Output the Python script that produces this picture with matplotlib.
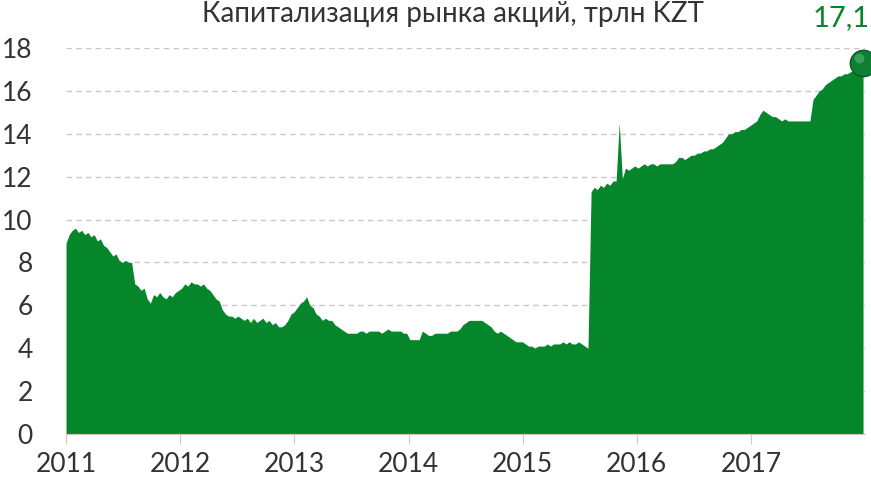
import pandas as pd
import matplotlib
matplotlib.use("Agg")
from matplotlib import pyplot as plt
import matplotlib.dates as mdates

plt.rcParams['font.family'] = ['Lato', 'DejaVu Sans']

title = 'Капитализация рынка акций, трлн KZT'
last_label = '17,1'
years = [2011, 2012, 2013, 2014, 2015, 2016, 2017]
y_ticks = [0, 2, 4, 6, 8, 10, 12, 14, 16, 18]

# 10-day readings, from 2011-01-01
cap = [
    8.9, 9.3, 9.5, 9.6, 9.4, 9.5, 9.3, 9.4, 9.2, 9.3,
    9.0, 9.1, 8.8, 8.7, 8.5, 8.3, 8.4, 8.1, 8.0, 8.1,
    8.0, 8.0, 7.0, 6.9, 6.7, 6.8, 6.3, 6.1, 6.5, 6.4,
    6.6, 6.4, 6.3, 6.5, 6.4, 6.6, 6.7, 6.8, 7.0, 6.9,
    7.1, 7.0, 7.0, 6.9, 7.0, 6.8, 6.7, 6.5, 6.3, 6.2,
    5.8, 5.6, 5.5, 5.5, 5.4, 5.5, 5.4, 5.3, 5.4, 5.2,
    5.4, 5.2, 5.3, 5.4, 5.2, 5.3, 5.1, 5.2, 5.0, 5.0,
    5.1, 5.3, 5.6, 5.7, 5.9, 6.1, 6.2, 6.4, 6.0, 5.9,
    5.6, 5.5, 5.3, 5.4, 5.3, 5.3, 5.1, 5.0, 4.9, 4.8,
    4.7, 4.7, 4.7, 4.7, 4.8, 4.8, 4.7, 4.8, 4.8, 4.8,
    4.8, 4.7, 4.8, 4.9, 4.8, 4.8, 4.8, 4.8, 4.7, 4.7,
    4.4, 4.4, 4.4, 4.4, 4.8, 4.7, 4.6, 4.6, 4.7, 4.7,
    4.7, 4.7, 4.7, 4.8, 4.8, 4.8, 4.9, 5.1, 5.2, 5.3,
    5.3, 5.3, 5.3, 5.3, 5.2, 5.1, 5.0, 4.8, 4.7, 4.8,
    4.7, 4.6, 4.5, 4.4, 4.3, 4.3, 4.3, 4.2, 4.1, 4.1,
    4.0, 4.1, 4.1, 4.1, 4.2, 4.1, 4.2, 4.2, 4.2, 4.3,
    4.2, 4.3, 4.2, 4.2, 4.3, 4.2, 4.1, 4.0, 11.3, 11.5,
    11.4, 11.6, 11.5, 11.7, 11.6, 11.8, 11.8, 14.5, 11.9, 12.4,
    12.3, 12.4, 12.5, 12.4, 12.5, 12.6, 12.5, 12.6, 12.6, 12.5,
    12.6, 12.6, 12.6, 12.6, 12.6, 12.7, 12.9, 12.9, 12.8, 12.9,
    13.0, 13.0, 13.1, 13.1, 13.2, 13.2, 13.3, 13.3, 13.4, 13.5,
    13.6, 13.8, 14.0, 14.0, 14.1, 14.1, 14.2, 14.2, 14.3, 14.4,
    14.5, 14.6, 14.9, 15.1, 15.0, 14.9, 14.8, 14.8, 14.7, 14.6,
    14.7, 14.6, 14.6, 14.6, 14.6, 14.6, 14.6, 14.6, 14.6, 15.6,
    15.8, 16.0, 16.1, 16.3, 16.4, 16.5, 16.6, 16.7, 16.7, 16.8,
    16.8, 16.9, 16.9, 16.9, 17.0, 17.1,
]
dates = pd.date_range('2011-01-01', periods=len(cap), freq='10D')

green = '#06862B'
text_col = '#333333'

fig = plt.figure(figsize=(8.71, 4.83), dpi=100)
ax = fig.add_axes([0.0758, 0.1014, 0.9172, 0.7992])

ax.fill_between(dates, 0, cap, color=green, linewidth=0, zorder=2)
ax.plot(dates[-1], cap[-1] + 0.2, 'o', ms=19, mfc='#0f7f33', mec='#0a5a23',
        mew=1, clip_on=False, zorder=4)
ax.plot(dates[-1] - pd.Timedelta(days=14), cap[-1] + 0.45, 'o', ms=7,
        mfc='#43a868', mec='none', alpha=0.8, clip_on=False, zorder=5)

ax.set_xlim(pd.Timestamp('2011-01-01'), pd.Timestamp('2017-12-31'))
ax.set_ylim(0, 18)
ax.set_xticks([pd.Timestamp(f'{y}-01-01') for y in years])
ax.xaxis.set_major_formatter(mdates.DateFormatter('%Y'))
ax.set_yticks(y_ticks)

for s in ['top', 'right', 'left']:
    ax.spines[s].set_visible(False)
ax.spines['bottom'].set_color('#c8c8c8')
ax.spines['bottom'].set_zorder(3)
ax.tick_params(axis='x', direction='out', length=7, color='#c8c8c8',
               labelsize=19, labelcolor=text_col, pad=6)
ax.tick_params(axis='y', length=0, labelsize=19, labelcolor=text_col, pad=24)

for v in y_ticks[1:]:
    ax.axhline(v, color='#c8c8c8', linestyle=(0, (4, 3)), linewidth=1, zorder=1)

ax.text(dates[-1] + pd.Timedelta(days=20), 19.4, last_label, ha='right',
        va='center', color=green, fontsize=21, clip_on=False)
fig.text(0.52, 0.998, title, ha='center', va='top', fontsize=20,
         color=text_col)

fig.savefig('out.png', dpi=100)
